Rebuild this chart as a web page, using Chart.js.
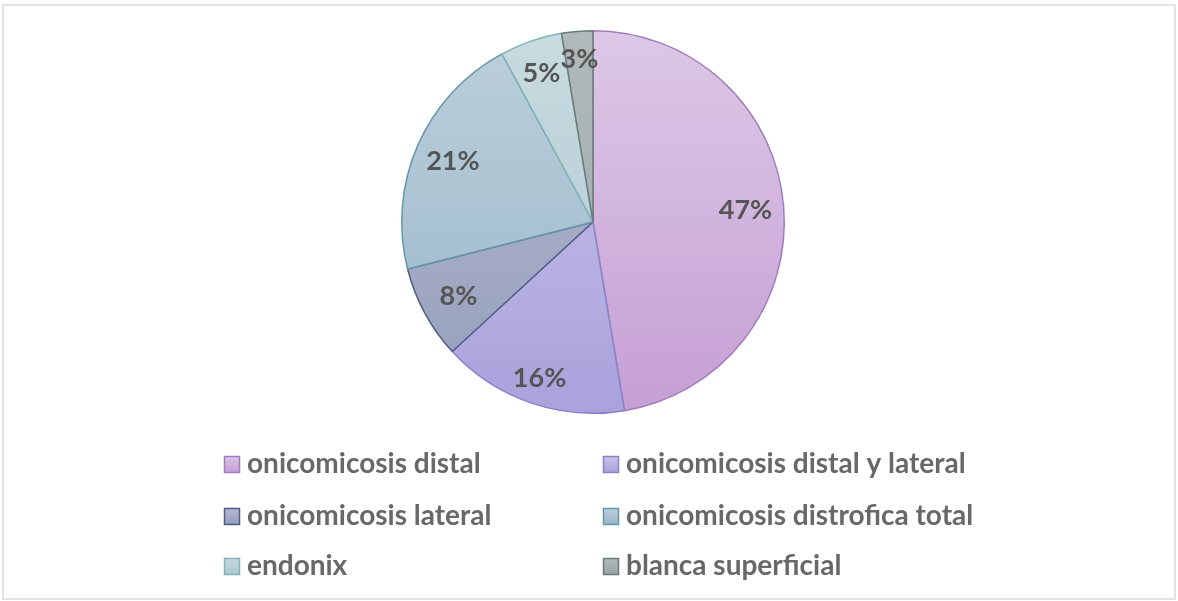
<!DOCTYPE html>
<html><head><meta charset="utf-8">
<script src="https://cdn.jsdelivr.net/npm/chart.js@4"></script>
<style>html,body{margin:0;padding:0;background:#fff;}#wrap{position:relative;width:1178px;height:601px;}</style>
</head><body><div id="wrap"><canvas id="c" width="1178" height="601"></canvas></div>
<script>
const categories = ["onicomicosis distal","onicomicosis distal y lateral","onicomicosis lateral","onicomicosis distrofica total","endonix","blanca superficial"];
const counts = [18, 6, 3, 8, 2, 1];
const percentLabels = ["47%","16%","8%","21%","5%","3%"];
const topColors = ["#dcc8e6","#c9c5ea","#b4b9ce","#bccfdc","#c8dbe0","#b0baba"];
const bottomColors = ["#c59fd4","#a9a2dc","#959fbc","#98b6c7","#acc8cf","#98a5a4"];
const borderColors = ["#a27cc0","#8a80cc","#4f5d88","#6497aa","#82b2bb","#6a7a78"];

const CX = 593, CY = 222, R = 192;

function grad(ctx, i){
  const g = ctx.chart.ctx.createLinearGradient(0, CY - R, 0, CY + R);
  g.addColorStop(0, topColors[i]);
  g.addColorStop(1, bottomColors[i]);
  return g;
}

const frame = {
  id:'frame',
  beforeDraw(chart){
    const c = chart.ctx; c.save();
    c.fillStyle='#fff'; c.fillRect(0,0,chart.width,chart.height);
    c.strokeStyle='#e2e2e2'; c.lineWidth=2;
    c.strokeRect(3,5,1172,594);
    c.restore();
  }
};

const labelsPlugin = {
  id:'pctLabels',
  afterDatasetsDraw(chart){
    const c = chart.ctx; const meta = chart.getDatasetMeta(0);
    c.save();
    c.font = 'bold 27px Lato';
    c.fillStyle = '#555555';
    c.textAlign='center'; c.textBaseline='middle';
    const offs = [0.80,0.86,0.80,0.80,0.83,0.86];
    meta.data.forEach((arc,i)=>{
      const p = arc.getProps(['x','y','startAngle','endAngle','outerRadius'],true);
      const a = (p.startAngle+p.endAngle)/2;
      const r = p.outerRadius*offs[i];
      c.fillText(percentLabels[i], p.x+Math.cos(a)*r, p.y+Math.sin(a)*r + 1);
    });
    c.restore();
  }
};

const legendPlugin = {
  id:'customLegend',
  afterDraw(chart){
    const c = chart.ctx; c.save();
    const colX = [224, 603];
    const rowY = [464, 516, 566];
    c.font = 'bold 28px Lato';
    c.textBaseline='middle'; c.textAlign='left';
    categories.forEach((name,i)=>{
      const x = colX[i%2], y = rowY[Math.floor(i/2)];
      const g = c.createLinearGradient(0,y-8,0,y+8);
      g.addColorStop(0, topColors[i]); g.addColorStop(1, bottomColors[i]);
      c.fillStyle = g;
      c.fillRect(x+0.5, y-8+0.5, 15, 16);
      c.strokeStyle = borderColors[i]; c.lineWidth=1.5;
      c.strokeRect(x+0.5, y-8+0.5, 15, 16);
      c.fillStyle = '#686868';
      c.fillText(name, x+23, y);
    });
    c.restore();
  }
};

new Chart(document.getElementById('c'), {
  type:'pie',
  data:{ labels: categories, datasets:[{
    data: counts,
    backgroundColor: (ctx)=>grad(ctx, ctx.dataIndex),
    borderColor: borderColors,
    borderWidth: 1.5
  }]},
  options:{
    responsive:false, animation:false,
    layout:{ padding:{ left: CX-R, right: 1178-(CX+R), top: CY-R, bottom: 601-(CY+R) } },
    plugins:{ legend:{display:false}, tooltip:{enabled:false} }
  },
  plugins:[frame, labelsPlugin, legendPlugin]
});
</script></body></html>
